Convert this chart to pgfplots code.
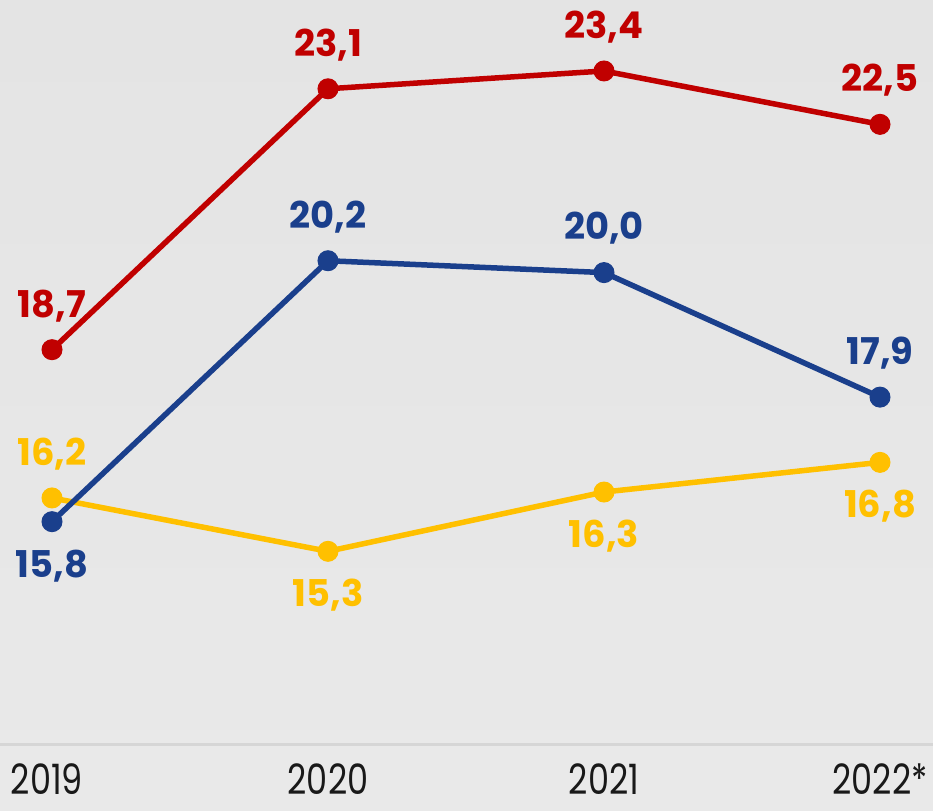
\documentclass[border=0pt]{standalone}
\usepackage{pgfplots}
\pgfplotsset{compat=1.18}
\usepackage{pgfplotstable}
\usepackage{fontspec}
\setmainfont{Poppins}
\newfontfamily\tickfont[FakeStretch=0.8]{Poppins}
\definecolor{cred}{HTML}{C00000}
\definecolor{cblue}{HTML}{1A3F8C}
\definecolor{cyel}{HTML}{FFC000}
\definecolor{bgtop}{HTML}{E4E4E4}
\definecolor{bgbot}{HTML}{E9E9E9}
\definecolor{basec}{HTML}{D6D6D6}

\pgfplotstableread{
x y p
0 18.7 1
1 23.1 1
2 23.4 1
3 22.5 1
}\tred
\pgfplotstableread{
x y p
0 15.8 -1
1 20.2 1
2 20.0 1
3 17.9 1
}\tblue
\pgfplotstableread{
x y p
0 16.2 1
1 15.3 -1
2 16.3 -1
3 16.8 -1
}\tyel

\begin{document}
\begin{tikzpicture}
\begin{axis}[
  scale only axis, width=933bp, height=811bp,
  xmin=-0.18841, xmax=3.19203, ymin=10.921, ymax=24.597,
  axis line style={draw=none},
  ytick=\empty, xtick={0,1,2,3}, xticklabels={\hspace{-10bp}2019,2020,2021,2022*},
  major tick length=0pt,
  xticklabel style={font=\tickfont\fontsize{42}{42}\selectfont, text=black!90, anchor=base, inner sep=0pt, yshift=17bp},
  axis background/.style={shade, top color=bgtop, bottom color=bgbot},
  clip=false,
  /pgf/number format/.cd, fixed, fixed zerofill, precision=1, use comma, assume math mode=true,
  /pgfplots/.cd,
  nodes near coords,
  visualization depends on={\thisrow{p} \as \lp},
  every node near coord/.style={anchor=center, yshift=\lp*44bp, font=\fontsize{37}{37}\selectfont\bfseries},
  every axis plot/.append style={line width=5.5bp, mark=*, mark size=10bp, mark options={solid, line width=1bp}},
]
\draw[basec, line width=3bp] (axis cs:-0.18841,12.034) -- (axis cs:3.19203,12.034);
\addplot[cyel, nodes near coords style={text=cyel}] table[x=x,y=y] {\tyel};
\addplot[cblue, nodes near coords style={text=cblue}] table[x=x,y=y] {\tblue};
\addplot[cred, nodes near coords style={text=cred}] table[x=x,y=y] {\tred};
\end{axis}
\pgfresetboundingbox
\useasboundingbox (current axis.south west) rectangle (current axis.north east);
\end{tikzpicture}
\end{document}
